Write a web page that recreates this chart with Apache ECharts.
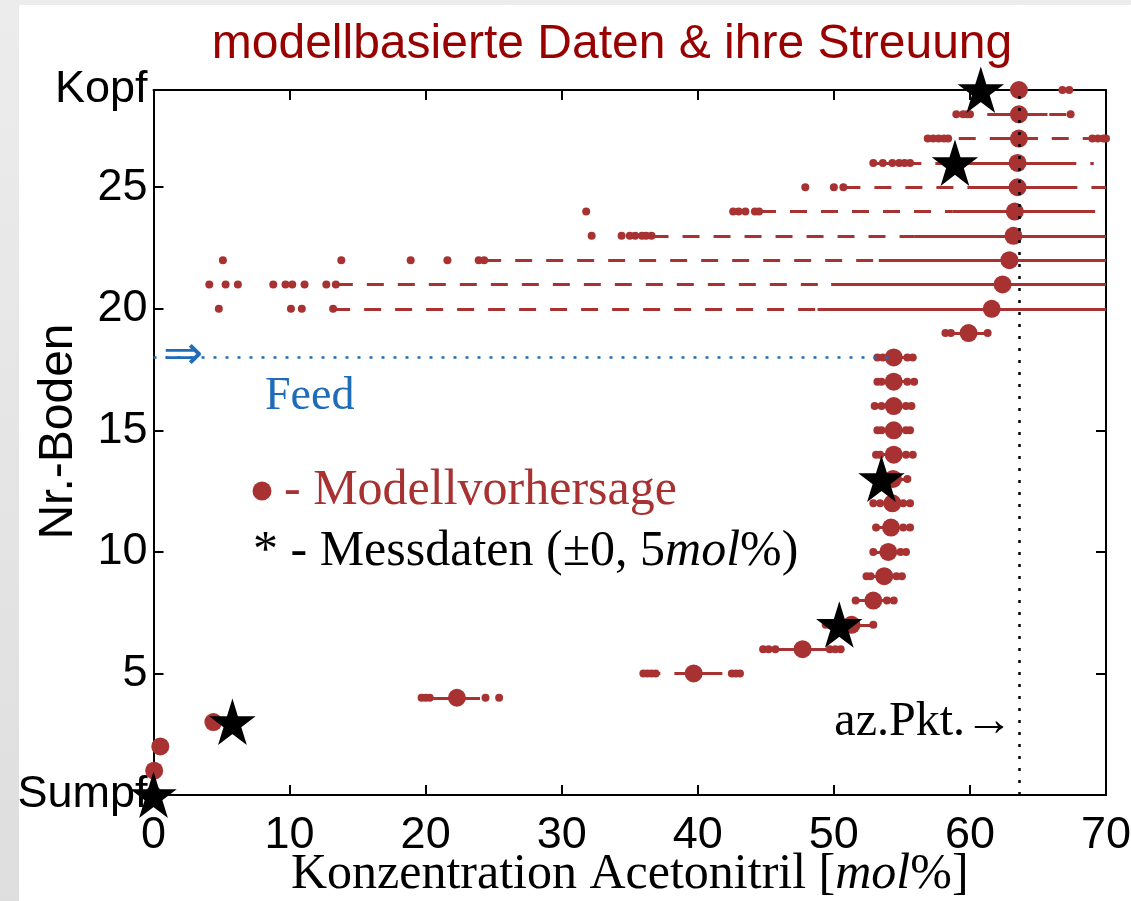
<!DOCTYPE html>
<html>
<head>
<meta charset="utf-8">
<title>modellbasierte Daten & ihre Streuung</title>
<script src="https://cdn.jsdelivr.net/npm/echarts@6/dist/echarts.min.js"></script>
<style>
    html, body { margin: 0; padding: 0; }
    body { width: 1131px; height: 901px; background: linear-gradient(#ececec, #dedede); position: relative; overflow: hidden; }
    #paper { position: absolute; left: 19px; top: 5px; width: 1112px; height: 896px; background: #fff; }
    #chart { position: absolute; left: 0; top: 0; width: 1131px; height: 901px; }
</style>
</head>
<body>
<div id="paper"></div>
<div id="chart"></div>
<script>
// Modellvorhersage je Boden (0 = Sumpf, 29 = Kopf)
const stages = [0, 1, 2, 3, 4, 5, 6, 7, 8, 9, 10, 11, 12, 13, 14, 15, 16, 17, 18, 19, 20, 21, 22, 23, 24, 25, 26, 27, 28, 29]
const modelX = [0.0, 0.05, 0.5, 4.4, 22.3, 39.7, 47.7, 51.3, 52.9, 53.7, 54.0, 54.2, 54.3, 54.35, 54.4, 54.4, 54.4, 54.4, 54.4,
    59.9, 61.6, 62.4, 62.9, 63.2, 63.3, 63.5, 63.5, 63.6, 63.6, 63.6]

// Messdaten
const measStage = [0, 3, 7, 13, 26, 29]
const measX = [0.0, 5.8, 50.4, 53.5, 58.9, 60.8]

// Streuung: Bereiche je Boden
const spreadStage = [4, 5, 6, 7, 8, 9, 10, 11, 12, 13, 14, 15, 16, 17, 18, 19, 20, 21, 22, 23, 24, 25, 26, 27, 28, 29]
const solidLo = [19.7, 39.0, 45.7, 49.7, 51.6, 52.7, 52.9, 53.1, 53.4, 53.0, 53.4, 53.5, 53.5, 53.5, 53.5, 58.6, 48.8, 49.8, 53.3, 55.9, 58.7, 60.2, 60.3, 62.4, 62.4, 66.8]
const solidHi = [24.0, 41.6, 49.7, 52.9, 53.9, 54.6, 54.9, 55.1, 55.1, 55.4, 55.3, 55.3, 55.3, 55.4, 55.3, 61.3, 70.0, 70.0, 70.0, 70.0, 69.2, 67.6, 66.8, 65.0, 65.7, 67.3]
const dashStage = [5, 20, 21, 22, 23, 24, 25, 26, 27, 28]
const dashLo = [36.0, 13.2, 13.4, 24.3, 36.6, 44.5, 50.7, 52.9, 56.9, 59.0]
const dashHi = [43.1, 48.8, 49.8, 53.3, 55.9, 58.7, 70.0, 69.1, 70.0, 67.4]
// einzelne Stichproben je Boden (gleiche Reihenfolge wie spreadStage)
const sampleX = [
    [19.7, 20.0, 20.3, 24.4, 25.4],
    [36.0, 36.3, 36.6, 36.9, 42.5, 42.8, 43.1],
    [44.8, 45.2, 45.7, 49.7, 50.1, 50.5],
    [49.4, 49.7, 52.9],
    [51.6, 53.9, 54.4],
    [52.4, 52.7, 54.6, 55.0],
    [52.9, 54.9, 55.3],
    [53.1, 55.1, 55.6],
    [52.9, 53.4, 55.1, 55.6],
    [53.0, 55.4],
    [53.1, 53.4, 55.3, 55.8],
    [53.2, 53.5, 55.3, 55.6],
    [53.0, 53.5, 55.3, 55.7],
    [53.2, 53.5, 55.4, 55.9],
    [53.2, 53.6, 55.4, 55.8],
    [58.2, 58.6, 61.3],
    [4.8, 10.1, 10.9, 13.2],
    [4.1, 5.3, 6.2, 8.8, 9.7, 10.2, 11.1, 12.7, 13.4],
    [5.1, 13.8, 18.9, 21.6, 23.9, 24.3],
    [32.2, 34.4, 35.0, 35.4, 35.9, 36.2, 36.6],
    [31.8, 42.6, 43.0, 43.5, 44.2, 44.5],
    [47.9, 50.0, 50.7],
    [52.9, 53.6, 54.3, 54.8, 55.2, 55.6],
    [56.9, 57.3, 57.7, 58.1, 58.4, 69.0, 69.4, 69.8, 70.0],
    [59.0, 59.5, 59.8, 60.0, 67.4],
    [66.8, 67.3]
]

// Feed und azeotroper Punkt
const feedStage = 18
const feedX = [0, 54.4]
const azX = 63.6

const yTicks = [0, 5, 10, 15, 20, 25, 29]

const RED = '#a83232'
const BLUE = '#1f6cb8'
const SANS = 'Liberation Sans'
const SERIF = 'Liberation Serif'
const STAR = 'path://M50 0 L61.23 34.55 L97.55 34.55 L68.17 55.9 L79.39 90.45 L50 69.1 L20.61 90.45 L31.83 55.9 L2.45 34.55 L38.77 34.55 Z'

let chart = echarts.init(document.getElementById('chart'))

let solidLines = spreadStage.map((s, i) => ({ coords: [[solidLo[i], s], [solidHi[i], s]] }))
let dashLines = dashStage.map((s, i) => ({ coords: [[dashLo[i], s], [dashHi[i], s]] }))
let samples = []
spreadStage.forEach((s, i) => {
    sampleX[i].forEach(x => samples.push([x, s]))
})

let option = {
    animation: false,
    title: {
        text: 'modellbasierte Daten & ihre Streuung',
        left: 607,
        top: 16,
        textAlign: 'center',
        textStyle: { fontFamily: SANS, fontSize: 48, fontWeight: 'normal', color: '#990000' }
    },
    grid: { left: 153.5, right: 25, top: 90, bottom: 106, containLabel: false, outerBoundsMode: 'none' },
    xAxis: [
        {
            type: 'value', min: 0, max: 70, interval: 10,
            name: 'Konzentration Acetonitril [{i|mol}%]',
            nameLocation: 'middle', nameGap: 55,
            nameMoveOverlap: false,
            nameTextStyle: {
                fontFamily: SERIF, fontSize: 50, color: '#000',
                rich: { i: { fontFamily: SERIF, fontSize: 50, fontStyle: 'italic', color: '#000' } }
            },
            axisLine: { lineStyle: { color: '#000', width: 2 } },
            axisTick: { inside: true, length: 10, lineStyle: { color: '#000', width: 2 } },
            axisLabel: { fontFamily: SANS, fontSize: 45, color: '#000', margin: 18 },
            splitLine: { show: false }
        },
        {
            type: 'value', min: 0, max: 70, interval: 10, position: 'top',
            axisLine: { onZero: false, lineStyle: { color: '#000', width: 2 } },
            axisTick: { inside: true, length: 10, lineStyle: { color: '#000', width: 2 } },
            axisLabel: { show: false },
            splitLine: { show: false }
        }
    ],
    yAxis: [
        {
            type: 'value', min: 0, max: 29,
            name: 'Nr.-Boden',
            nameLocation: 'middle', nameGap: 71,
            nameMoveOverlap: false,
            nameTextStyle: { fontFamily: SANS, fontSize: 48, color: '#000', padding: [0, 0, 0, 22] },
            axisLine: { lineStyle: { color: '#000', width: 2 } },
            axisTick: { inside: true, length: 10, customValues: yTicks, lineStyle: { color: '#000', width: 2 } },
            axisLabel: {
                customValues: yTicks,
                fontFamily: SANS, fontSize: 45, color: '#000', margin: 6,
                formatter: v => v === 0 ? 'Sumpf' : (v === 29 ? 'Kopf' : String(v))
            },
            splitLine: { show: false }
        },
        {
            type: 'value', min: 0, max: 29, position: 'right',
            axisLine: { onZero: false, lineStyle: { color: '#000', width: 2 } },
            axisTick: { inside: true, length: 10, customValues: yTicks, lineStyle: { color: '#000', width: 2 } },
            axisLabel: { show: false },
            splitLine: { show: false }
        }
    ],
    series: [
        {
            name: 'Streuung (gestrichelt)',
            type: 'lines', coordinateSystem: 'cartesian2d', polyline: false, z: 2,
            lineStyle: { color: RED, width: 3, type: [17, 14], opacity: 1 },
            data: dashLines
        },
        {
            name: 'Streuung',
            type: 'lines', coordinateSystem: 'cartesian2d', polyline: false, z: 3,
            lineStyle: { color: RED, width: 3, type: 'solid', opacity: 1 },
            data: solidLines
        },
        {
            name: 'Stichproben',
            type: 'scatter', z: 4,
            symbol: 'circle', symbolSize: 8,
            itemStyle: { color: RED, opacity: 1 },
            data: samples
        },
        {
            name: 'Modellvorhersage',
            type: 'scatter', z: 5,
            symbol: 'circle', symbolSize: 18,
            itemStyle: { color: RED, opacity: 1 },
            data: stages.map((s, i) => [modelX[i], s])
        },
        {
            name: 'Messdaten',
            type: 'scatter', z: 6,
            symbol: STAR, symbolSize: 42,
            itemStyle: { color: '#000', opacity: 1, borderColor: '#000', borderWidth: 1.5 },
            data: measStage.map((s, i) => [measX[i], s])
        },
        {
            name: 'Feed',
            type: 'lines', coordinateSystem: 'cartesian2d', z: 7,
            lineStyle: { color: BLUE, width: 2.5, type: [3, 9], opacity: 1 },
            data: [{ coords: [[feedX[0], feedStage], [feedX[1], feedStage]] }]
        },
        {
            name: 'az.Pkt.',
            type: 'lines', coordinateSystem: 'cartesian2d', z: 7,
            lineStyle: { color: '#000', width: 2.5, type: [3, 9], opacity: 1 },
            data: [{ coords: [[azX, 0], [azX, 29]] }]
        }
    ],
    graphic: [
        { type: 'circle', shape: { cx: 262, cy: 491, r: 9.5 }, style: { fill: RED }, z: 100 },
        {
            type: 'text', x: 284, y: 491, z: 100,
            style: { text: '- Modellvorhersage', font: '50px "Liberation Serif"', fill: RED, verticalAlign: 'middle' }
        },
        {
            type: 'text', x: 253, y: 552, z: 100,
            style: {
                text: '{a|* - Messdaten (±0, 5}{i|mol}{a|%)}',
                verticalAlign: 'middle',
                rich: {
                    a: { fontFamily: SERIF, fontSize: 50, fill: '#000' },
                    i: { fontFamily: SERIF, fontSize: 50, fontStyle: 'italic', fill: '#000' }
                }
            }
        },
        {
            type: 'text', x: 163, y: 357, z: 100,
            style: { text: '⇒', font: '48px "DejaVu Sans"', fill: BLUE, verticalAlign: 'middle' }
        },
        {
            type: 'text', x: 265, y: 397, z: 100,
            style: { text: 'Feed', font: '46px "Liberation Serif"', fill: BLUE, verticalAlign: 'middle' }
        },
        {
            type: 'text', x: 1013, y: 722, z: 100,
            style: { text: 'az.Pkt.→', font: '48px "Liberation Serif"', fill: '#000', align: 'right', verticalAlign: 'middle' }
        }
    ]
}

chart.setOption(option)
</script>
</body>
</html>
